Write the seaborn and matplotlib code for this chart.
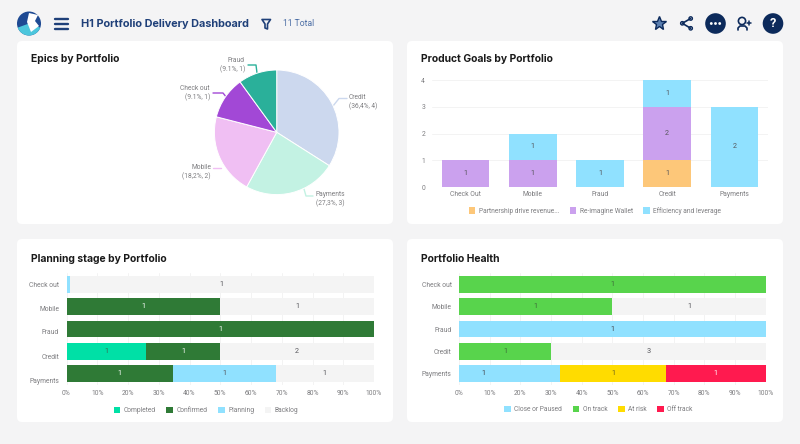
import matplotlib
matplotlib.use("Agg")
import matplotlib.pyplot as plt
from matplotlib.patches import Circle, FancyBboxPatch, Polygon, Wedge
from matplotlib.ticker import PercentFormatter
import seaborn as sns

# ---- data ----
pie_names = ["Credit", "Payments", "Mobile", "Check out", "Fraud"]
pie_shares = [34, 24, 21, 11, 10]
pie_colors = ["#ccd8ee", "#c3f2e3", "#f0bff3", "#a248d6", "#2ab09a"]

goal_cats = ["Check Out", "Mobile", "Fraud", "Credit", "Payments"]
goal_partner = [0, 0, 0, 1, 0]
goal_reimagine = [1, 1, 0, 2, 0]
goal_efficiency = [0, 1, 1, 1, 3]
goal_partner_lab = ["", "", "", "1", ""]
goal_reimagine_lab = ["1", "1", "", "2", ""]
goal_efficiency_lab = ["", "1", "1", "1", "2"]

row_cats = ["Check out", "Mobile", "Fraud", "Credit", "Payments"]

plan_completed = [0, 0, 0, 26, 0]
plan_confirmed = [0, 50, 100, 24, 34.5]
plan_planning = [1, 0, 0, 0, 33.5]
plan_backlog = [99, 50, 0, 50, 32]
plan_completed_lab = ["", "", "", "1", ""]
plan_confirmed_lab = ["", "1", "1", "1", "1"]
plan_planning_lab = ["", "", "", "", "1"]
plan_backlog_lab = ["1", "1", "", "2", "1"]

health_closed = [0, 0, 100, 0, 33]
health_ontrack = [100, 50, 0, 30, 0]
health_atrisk = [0, 0, 0, 0, 34.5]
health_offtrack = [0, 0, 0, 0, 32.5]
health_none = [0, 50, 0, 70, 0]
health_closed_lab = ["", "", "1", "", "1"]
health_ontrack_lab = ["1", "1", "", "1", ""]
health_atrisk_lab = ["", "", "", "", "1"]
health_offtrack_lab = ["", "", "", "", "1"]
health_none_lab = ["", "1", "", "3", ""]

BG = "#f4f4f5"
GREY = "#7d7d80"
NAVY = "#1f4079"
DARK = "#0c2a5b"
BLUE = "#90e1ff"

sns.set_theme(style="whitegrid", rc={
    "axes.facecolor": "none",
    "figure.facecolor": BG,
    "axes.edgecolor": "none",
    "grid.color": "#f3f3f3",
    "grid.linewidth": 0.7,
    "xtick.color": GREY,
    "ytick.color": GREY,
})
plt.rcParams["font.family"] = ["Roboto", "DejaVu Sans"]

fig = plt.figure(figsize=(8, 4.44), dpi=100)


def px_axes(left, top, right, bottom, **kw):
    return fig.add_axes([left / 800, 1 - bottom / 444, (right - left) / 800, (bottom - top) / 444], **kw)


# page layer in pixel coordinates: cards, header, titles
page = px_axes(0, 0, 800, 444)
page.set_xlim(0, 800)
page.set_ylim(444, 0)
page.axis("off")

for x0, y0 in [(17, 41), (407, 41), (17, 239), (407, 239)]:
    page.add_patch(FancyBboxPatch((x0 + 4, y0 + 4), 368, 175, boxstyle="round,pad=4,rounding_size=5",
                                  fc="white", ec="none"))

for name, x, y in [("Epics by Portfolio", 31, 59.5), ("Product Goals by Portfolio", 421, 59.5),
                   ("Planning stage by Portfolio", 31, 258.5), ("Portfolio Health", 421, 258.5)]:
    page.text(x, y, name, family="Inter", weight="bold", fontsize=7.45, color="#1a1a1a", va="center")

# header
page.add_patch(Circle((29, 23.5), 12, fc="#1e4a93", ec="none"))
page.add_patch(Wedge((29, 23.5), 12, 20, 160, fc="#4cc6dc", ec="none"))
page.add_patch(Polygon([(29, 13), (38, 15), (35, 21), (39, 26), (31, 32), (27, 22)], fc="white", ec="none"))
for y in (19, 24, 29):
    page.plot([54.5, 67.5], [y, y], color=NAVY, lw=1.7, solid_capstyle="round")
page.text(81, 24, "H1 Portfolio Delivery Dashboard", family="Inter", weight="bold", fontsize=7.85,
          color=NAVY, va="center")
page.add_patch(Polygon([(262, 19.5), (270.5, 19.5), (267.5, 24), (267.5, 29), (265, 28), (265, 24)],
                       fc="none", ec=NAVY, lw=1.2, joinstyle="round"))
page.text(283, 24, "11 Total", fontsize=6.2, color="#4d6fa6", va="center")

page.plot([658.7], [23.5], marker="*", ms=10, mfc="#5b7fb0", mec=DARK, mew=1)
page.plot([690.7, 682.3, 690.7], [18.5, 23.3, 28.3], color=DARK, lw=1.2)
for x, y in [(690.7, 18.5), (682.3, 23.3), (690.7, 28.3)]:
    page.add_patch(Circle((x, y), 1.7, fc="white", ec=DARK, lw=1))
page.add_patch(Circle((715.5, 23.5), 10.3, fc=DARK, ec="none"))
for dx in (-4.2, 0, 4.2):
    page.add_patch(Circle((715.5 + dx, 23.5), 1.4, fc="white", ec="none"))
page.add_patch(Circle((742, 21), 3.6, fc="none", ec=DARK, lw=1.2))
page.plot([738, 738, 740, 745, 747, 747], [30, 28, 26, 26, 28, 30], color=DARK, lw=1.2)
page.plot([747, 751], [23, 23], color=DARK, lw=1.1)
page.plot([749, 749], [21, 25], color=DARK, lw=1.1)
page.add_patch(Circle((773, 23.5), 10.3, fc=DARK, ec="none"))
page.text(773, 23.7, "?", color="white", fontsize=9, weight="bold", ha="center", va="center")

# ---- pie ----
ax_pie = px_axes(214.4, 70, 339, 194.6)
ax_pie.pie(pie_shares, colors=pie_colors, startangle=90, counterclock=False,
           wedgeprops={"edgecolor": "white", "linewidth": 0.7})
ax_pie.set_xlim(-1, 1)
ax_pie.set_ylim(-1, 1)

pie_notes = [("Credit\n(36,4%, 4)", 349, 102.5, "left", [(347, 98.5), (339, 98.5), (333, 106)], pie_colors[0]),
             ("Payments\n(27,3%, 3)", 315.7, 199, "left", [(313, 196), (306, 196), (304, 189)], pie_colors[1]),
             ("Mobile\n(18,2%, 2)", 211, 172, "right", [(213, 168), (221, 168)], pie_colors[2]),
             ("Check out\n(9.1%, 1)", 210, 93.5, "right", [(213, 93), (223, 93), (227, 98)], pie_colors[3]),
             ("Fraud\n(9.1%, 1)", 245, 65.5, "right", [(248, 65), (256, 65), (257, 73)], pie_colors[4])]
for note, x, y, ha, path, col in pie_notes:
    page.text(x, y, note, fontsize=4.8, color=GREY, ha=ha, va="center", linespacing=1.3)
    page.plot(*zip(*path), color=col, lw=1)


def style_axis(ax, pad_x, pad_y):
    ax.set_xlabel("")
    ax.set_ylabel("")
    ax.set_axisbelow(True)
    ax.tick_params(axis="both", length=0, labelsize=4.9)
    ax.tick_params(axis="x", pad=pad_x)
    ax.tick_params(axis="y", pad=pad_y)
    sns.despine(ax=ax, left=True, bottom=True)


def add_legend(ax, cx, cy):
    ax.legend(loc="center", bbox_to_anchor=(cx / 800, 1 - cy / 444), bbox_transform=fig.transFigure,
              ncol=4, frameon=False, fontsize=4.8, labelcolor=GREY, handlelength=1.0, handleheight=1.1,
              handletextpad=0.5, columnspacing=1.6, borderpad=0)


# ---- product goals ----
ax_goal = px_axes(432, 80, 768, 187)
goal_base = [0] * len(goal_cats)
for vals, labs, col, name in [(goal_partner, goal_partner_lab, "#fdc779", "Partnership drive revenue..."),
                              (goal_reimagine, goal_reimagine_lab, "#cba1ee", "Re-imagine Wallet"),
                              (goal_efficiency, goal_efficiency_lab, BLUE, "Efficiency and leverage")]:
    sns.barplot(x=goal_cats, y=vals, bottom=goal_base, color=col, saturation=1, width=0.71, linewidth=0,
                errorbar=None, label=name, order=goal_cats, ax=ax_goal)
    ax_goal.bar_label(ax_goal.containers[-1], labels=labs, label_type="center", fontsize=5.2, color="#55555a")
    goal_base = [a + b for a, b in zip(goal_base, vals)]
ax_goal.set_ylim(0, 4)
ax_goal.set_yticks([0, 1, 2, 3, 4])
ax_goal.xaxis.grid(False)
style_axis(ax_goal, 3, 5)
add_legend(ax_goal, 595, 211)


def stacked_rows(ax, rows):
    left = [0] * len(row_cats)
    out = {}
    for vals, labs, col, name, txt in rows:
        sns.barplot(x=vals, y=row_cats, left=left, color=col, saturation=1, width=0.746, orient="y", linewidth=0,
                    errorbar=None, label=name, order=row_cats, ax=ax)
        out[name] = ax.bar_label(ax.containers[-1], labels=labs, label_type="center", fontsize=5.2, color=txt)
        left = [a + b for a, b in zip(left, vals)]
    ax.set_xlim(0, 100)
    ax.set_xticks(range(0, 101, 10))
    ax.xaxis.set_major_formatter(PercentFormatter(100, decimals=0))
    ax.yaxis.grid(False)
    style_axis(ax, 4, 5.4)
    return out


# ---- planning stage ----
ax_plan = px_axes(66.5, 273.2, 374, 384.8)
stacked_rows(ax_plan, [(plan_completed, plan_completed_lab, "#00e0a6", "Completed", "#3c6b55"),
                       (plan_confirmed, plan_confirmed_lab, "#2f7a36", "Confirmed", "white"),
                       (plan_planning, plan_planning_lab, BLUE, "Planning", "#55555a"),
                       (plan_backlog, plan_backlog_lab, "#f4f4f4", "Backlog", "#55555a")])
# labels drift below their bars in this panel
ax_plan.set_yticks([0, 1.07, 2.13, 3.22, 4.3], row_cats)
add_legend(ax_plan, 206, 410.7)

# ---- portfolio health ----
ax_health = px_axes(459, 273.2, 765.7, 384.8)
health_text = stacked_rows(ax_health, [(health_closed, health_closed_lab, BLUE, "Close or Paused", "#44444a"),
                                       (health_ontrack, health_ontrack_lab, "#58d44c", "On track", "#3e6b3a"),
                                       (health_atrisk, health_atrisk_lab, "#ffdc00", "At risk", "#6b6220"),
                                       (health_offtrack, health_offtrack_lab, "#ff1a4f", "Off track", "white"),
                                       (health_none, health_none_lab, "#f4f4f4", "_none", "#55555a")])
health_text["Close or Paused"][4].xyann = (-19, 0)
health_text["_none"][3].xyann = (-7, 0)
add_legend(ax_health, 598.5, 409.3)

fig.savefig("out.png", dpi=100)
